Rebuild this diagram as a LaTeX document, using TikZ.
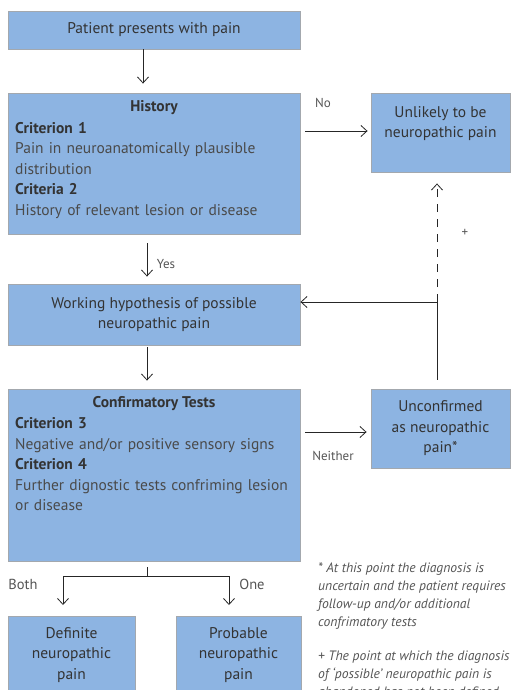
\documentclass[tikz,border=0pt]{standalone}
\usepackage{fontspec}
\setmainfont{PT Sans}
\usetikzlibrary{arrows.meta,calc}
\definecolor{boxfill}{HTML}{8DB4E2}
\definecolor{boxline}{HTML}{A3A8AE}
\definecolor{darktxt}{HTML}{333333}
\definecolor{bodytxt}{HTML}{4A4A4A}
\definecolor{lbltxt}{HTML}{555555}
\tikzset{
  box/.style={draw=boxline, line width=0.9pt, fill=boxfill, text=darktxt, align=center,
    inner sep=0pt, font=\fontsize{15.5}{20.5}\selectfont},
  boxtitle/.style={text=darktxt, font=\fontsize{15.5}{20.5}\selectfont\bfseries, inner sep=0pt},
  boxbody/.style={text=bodytxt, align=left, inner sep=0pt, text width=285pt,
    font=\fontsize{15.5}{20.5}\selectfont},
  arr/.style={draw=black!85, line width=0.8pt, -{Straight Barb[length=6pt,width=11pt,line width=0.8pt]}},
  conn/.style={draw=black!85, line width=0.8pt},
  lbl/.style={text=lbltxt, inner sep=0pt, font=\fontsize{13}{16}\selectfont},
  note/.style={text=lbltxt, inner sep=0pt, anchor=north west, align=left,
    font=\fontsize{13.6}{18}\selectfont\itshape},
}
\begin{document}
\begin{tikzpicture}[x=1pt,y=-1pt]
\useasboundingbox (0,0) rectangle (511,690);
% boxes
\node[box, minimum width=292pt, minimum height=38pt] (start) at (154,30) {Patient presents with pain};
\node[box, minimum width=292pt, minimum height=141pt] (hist) at (154,163.5) {};
\node[boxtitle] (histt) at (154,107.5) {History};
\node[boxbody, anchor=north west] (histb) at (15,122) {\textcolor{darktxt}{\bfseries Criterion 1}\\Pain in neuroanatomically plausible\\distribution\\\textcolor{darktxt}{\bfseries Criteria 2}\\History of relevant lesion or disease};
\node[box, minimum width=139pt, minimum height=79pt] (unl) at (440.5,132.5) {};
\node[text=darktxt, align=center, inner sep=0pt, font=\fontsize{15.5}{20.5}\selectfont, anchor=north] (unlt) at (440.5,106) {Unlikely to be\\neuropathic pain};
\node[box, minimum width=292pt, minimum height=61pt] (work) at (154,314.5) {Working hypothesis of possible\\neuropathic pain};
\node[box, minimum width=292pt, minimum height=172pt] (conf) at (154,475) {};
\node[boxtitle] (conft) at (154,403.5) {Confirmatory Tests};
\node[boxbody, anchor=north west] (confb) at (15,417.5) {\textcolor{darktxt}{\bfseries Criterion 3}\\Negative and/or positive sensory signs\\\textcolor{darktxt}{\bfseries Criterion 4}\\Further dignostic tests confriming lesion\\or disease};
\node[box, minimum width=139pt, minimum height=79pt] (unc) at (440.5,428.5) {Unconfirmed\\as neuropathic\\pain*};
\node[box, minimum width=127pt, minimum height=90pt, anchor=north west] (def) at (8,616) {};
\node[text=darktxt, align=center, inner sep=0pt, font=\fontsize{15.5}{20.5}\selectfont, anchor=north] (deft) at (71.5,627) {Definite\\neuropathic\\pain};
\node[box, minimum width=125pt, minimum height=90pt, anchor=north west] (prob) at (176,616) {};
\node[text=darktxt, align=center, inner sep=0pt, font=\fontsize{15.5}{20.5}\selectfont, anchor=north] (probt) at (238.5,627) {Probable\\neuropathic\\pain};
% helper coordinates
\coordinate (fbtop) at (437,302);
\coordinate (split) at (147,576);
\coordinate (splitl) at (63,576);
\coordinate (splitr) at (229,576);
% connectors
\draw[arr] ($(start.south)+(-11,0)$) -- ($(hist.north)+(-11,-9)$);
\draw[arr] ($(hist.south)+(-7,9)$) -- ($(work.north)+(-7,-7)$);
\draw[arr] ($(work.south)+(-7,2)$) -- ($(conf.north)+(-7,-8)$);
\draw[arr] ($(hist.east |- unl.west)+(5,-1.5)$) -- ($(unl.west)+(-3,-1.5)$);
\draw[arr] ($(conf.east |- unc.west)+(5,3.5)$) -- ($(unc.west)+(-4,3.5)$);
\draw[conn] ($(unc.north)+(-3.5,-9)$) -- (fbtop);
\draw[arr] (fbtop) -- (work.east |- fbtop);
\draw[arr, dashed, dash pattern=on 8pt off 7pt] (fbtop) -- ($(unl.south)+(-3.5,11)$);
\draw[conn] ($(conf.south)+(-7,6)$) -- (split);
\draw[conn] (splitl) -- (splitr);
\draw[arr] (splitl) -- ($(def.north -| splitl)+(0,-11)$);
\draw[arr] (splitr) -- ($(prob.north -| splitr)+(0,-11)$);
% labels
\node[lbl] (lno) at (323,103) {No};
\node[lbl] (lyes) at (166,264) {Yes};
\node[lbl] (lneither) at (333,456) {Neither};
\node[lbl, font=\fontsize{14.5}{16}\selectfont] (lboth) at (23,584) {Both};
\node[lbl, font=\fontsize{14.5}{16}\selectfont] (lone) at (252,584) {One};
\node[lbl] (lplus) at (465,233) {+};
% notes
\node[note] (note1) at (318,563) {* At this point the diagnosis is\\uncertain and the patient requires\\follow-up and/or additional\\confrimatory tests};
\node[note] (note2) at (318,651) {+ The point at which the diagnosis\\of ‘possible’ neuropathic pain is\\abandoned has not been defined};
\end{tikzpicture}
\end{document}
